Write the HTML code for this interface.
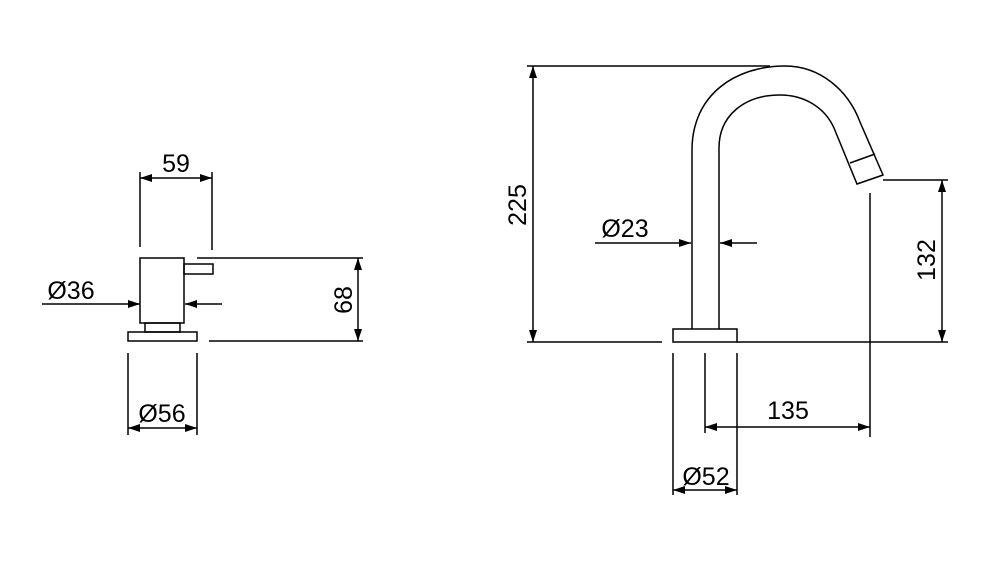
<!DOCTYPE html>
<html><head><style>html,body{margin:0;padding:0;background:#fff}svg{display:block}text{font-family:"Liberation Sans",sans-serif;font-size:25px;fill:#000}</style></head><body>
<svg width="1000" height="575" viewBox="0 0 1000 575" xmlns="http://www.w3.org/2000/svg">
<defs>
<marker id="a" viewBox="0 0 12 8" refX="12" refY="4" markerWidth="12" markerHeight="8" markerUnits="userSpaceOnUse" orient="auto-start-reverse"><path d="M0,0 L12,4 L0,8 z" fill="#000"/></marker>
</defs>
<g stroke="#000" stroke-width="1.5" fill="none">
<rect x="140" y="258" width="44" height="65"/>
<rect x="184" y="264" width="29" height="10"/>
<rect x="145" y="323" width="35" height="9"/>
<rect x="128" y="332" width="69" height="9"/>
<line x1="140" y1="172" x2="140" y2="247"/>
<line x1="212" y1="172" x2="212" y2="250"/>
<line x1="140" y1="178" x2="212" y2="178" marker-start="url(#a)" marker-end="url(#a)"/>
<line x1="42" y1="304" x2="140" y2="304" marker-end="url(#a)"/>
<line x1="222" y1="304" x2="185" y2="304" marker-end="url(#a)"/>
<line x1="197" y1="258" x2="363" y2="258"/>
<line x1="209" y1="341" x2="363" y2="341"/>
<line x1="358" y1="258" x2="358" y2="341" marker-start="url(#a)" marker-end="url(#a)"/>
<line x1="128" y1="353" x2="128" y2="435"/>
<line x1="197" y1="353" x2="197" y2="435"/>
<line x1="128" y1="428" x2="197" y2="428" marker-start="url(#a)" marker-end="url(#a)"/>
<path d="M692,329 L692,150 C692,95 735,66 785,66 C820,66 848,90 860,122 L883,175 L857,184 L834,128 C825,108 805,95 780,95 C745,95 719,115 719,148 L719,329"/>
<line x1="850" y1="163" x2="875" y2="154"/>
<rect x="673" y="329" width="64" height="13"/>
<line x1="527" y1="66" x2="770" y2="66"/>
<line x1="533" y1="66" x2="533" y2="342" marker-start="url(#a)" marker-end="url(#a)"/>
<line x1="527" y1="342" x2="662" y2="342"/>
<line x1="737" y1="342" x2="948" y2="342"/>
<line x1="883" y1="180" x2="948" y2="180"/>
<line x1="942" y1="180" x2="942" y2="342" marker-start="url(#a)" marker-end="url(#a)"/>
<line x1="870" y1="193" x2="870" y2="437"/>
<line x1="705" y1="353" x2="705" y2="433"/>
<line x1="705" y1="427" x2="870" y2="427" marker-start="url(#a)" marker-end="url(#a)"/>
<line x1="673" y1="353" x2="673" y2="495"/>
<line x1="737" y1="353" x2="737" y2="495"/>
<line x1="673" y1="490" x2="737" y2="490" marker-start="url(#a)" marker-end="url(#a)"/>
<line x1="595" y1="243" x2="691" y2="243" marker-end="url(#a)"/>
<line x1="757" y1="243" x2="720" y2="243" marker-end="url(#a)"/>
</g>
<text x="176" y="172" text-anchor="middle">59</text>
<text x="71" y="299" text-anchor="middle">Ø36</text>
<text x="162" y="422" text-anchor="middle">Ø56</text>
<text transform="translate(352,300) rotate(-90)" text-anchor="middle">68</text>
<text transform="translate(526,205) rotate(-90)" text-anchor="middle">225</text>
<text transform="translate(935,260) rotate(-90)" text-anchor="middle">132</text>
<text x="625" y="237" text-anchor="middle">Ø23</text>
<text x="788" y="419" text-anchor="middle">135</text>
<text x="706" y="485" text-anchor="middle">Ø52</text>
</svg>
</body></html>
